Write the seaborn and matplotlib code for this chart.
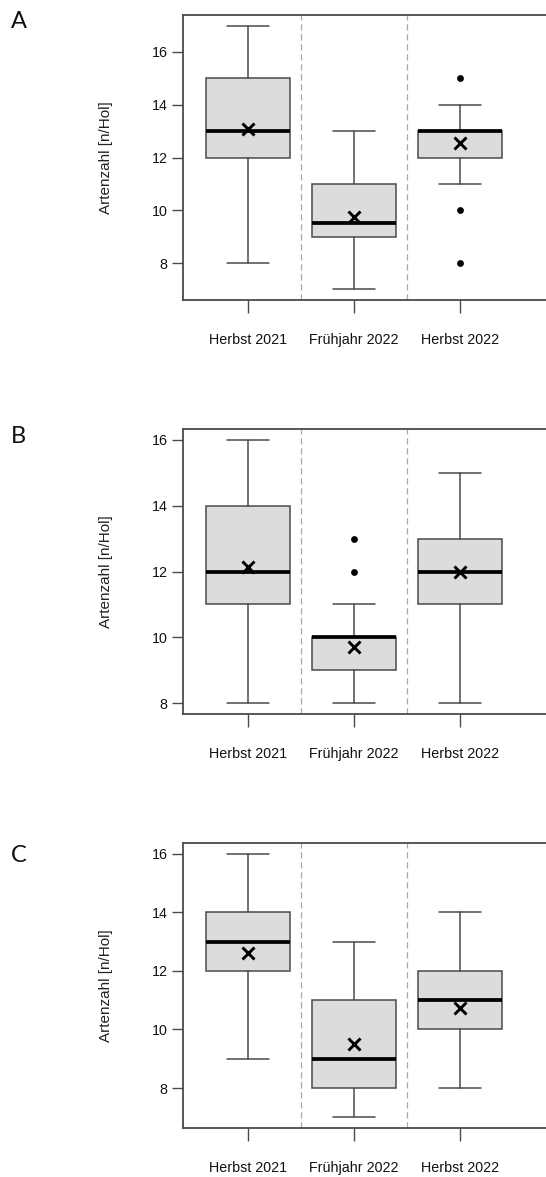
import matplotlib
matplotlib.use("Agg")
import matplotlib.pyplot as plt
import seaborn as sns
import pandas as pd
import numpy as np

sns.set_theme(style="white")
plt.rcParams["font.family"] = ["Liberation Sans", "DejaVu Sans"]

seasons = ["Herbst 2021", "Frühjahr 2022", "Herbst 2022"]
panel_labels = ["A", "B", "C"]
y_ticks = [8, 10, 12, 14, 16]

# Box summaries per panel, one value per season
whislo_A = [8, 7, 11]
q1_A = [12, 9, 12]
med_A = [13, 9.5, 13]
q3_A = [15, 11, 13]
whishi_A = [17, 13, 14]
mean_A = [13.08, 9.75, 12.55]
fliers_A = [[], [], [15, 10, 8]]

whislo_B = [8, 8, 8]
q1_B = [11, 9, 11]
med_B = [12, 10, 12]
q3_B = [14, 10, 13]
whishi_B = [16, 11, 15]
mean_B = [12.15, 9.72, 12.0]
fliers_B = [[], [13, 12], []]

whislo_C = [9, 7, 8]
q1_C = [12, 8, 10]
med_C = [13, 9, 11]
q3_C = [14, 11, 12]
whishi_C = [16, 13, 14]
mean_C = [12.6, 9.5, 10.72]
fliers_C = [[], [], []]

panels = [
    (whislo_A, q1_A, med_A, q3_A, whishi_A, mean_A, fliers_A),
    (whislo_B, q1_B, med_B, q3_B, whishi_B, mean_B, fliers_B),
    (whislo_C, q1_C, med_C, q3_C, whishi_C, mean_C, fliers_C),
]

W, H = 546, 1177
fig = plt.figure(figsize=(W / 100, H / 100), dpi=100)
fig.patch.set_facecolor("white")

# axes frames in pixel coordinates (left, top, right, bottom)
frames = [(183, 15, 560, 300), (183, 429, 560, 714), (183, 843, 560, 1128)]
letter_y = [21, 437, 856]

edge = "#4a4a4a"
for i, (lo, q1, med, q3, hi, mean, fl) in enumerate(panels):
    l, t, r, b = frames[i]
    ax = fig.add_axes([l / W, 1 - b / H, (r - l) / W, (b - t) / H])
    pos = np.arange(len(seasons))
    stats = [
        dict(whislo=lo[k], q1=q1[k], med=med[k], q3=q3[k], whishi=hi[k],
             fliers=[], label=seasons[k])
        for k in range(len(seasons))
    ]
    ax.bxp(stats, positions=pos, widths=0.8, capwidths=0.4,
           patch_artist=True, showfliers=False, showmeans=False,
           boxprops=dict(facecolor="#dcdcdc", edgecolor=edge, linewidth=1.1),
           whiskerprops=dict(color=edge, linewidth=1.1),
           capprops=dict(color=edge, linewidth=1.1),
           medianprops=dict(color="black", linewidth=2.7, solid_capstyle="butt"))

    # outlying values
    out_df = pd.DataFrame(
        [(pos[k], v) for k in range(len(seasons)) for v in fl[k]],
        columns=["pos", "value"])
    if len(out_df):
        sns.scatterplot(data=out_df, x="pos", y="value", ax=ax, color="black",
                        s=24, edgecolor="black", linewidth=0, zorder=5)

    # means
    mean_df = pd.DataFrame({"pos": pos, "mean": mean})
    sns.scatterplot(data=mean_df, x="pos", y="mean", ax=ax, marker="x",
                    color="black", s=75, linewidth=2.1, zorder=6)

    # dashed separators between seasons
    for xs in (pos[:-1] + 0.5):
        ax.axvline(xs, color="#a8a8a8", linestyle=(0, (5, 3)), linewidth=0.9,
                   zorder=0)

    all_vals = lo + hi + [v for f in fl for v in f]
    vmin, vmax = min(all_vals), max(all_vals)
    pad = 0.04 * (vmax - vmin)
    ax.set_ylim(vmin - pad, vmax + pad)
    ax.set_xlim(-0.613, 2.943)
    ax.set_yticks(y_ticks)
    ax.set_yticklabels([str(v) for v in y_ticks])
    ax.set_xticks(pos)
    ax.set_xticklabels(seasons)
    ax.set_xlabel("")
    ax.set_ylabel("Artenzahl [n/Hol]", fontsize=11, color="#222222", labelpad=28)

    ax.tick_params(axis="y", which="both", left=True, length=8, width=1.0,
                   color=edge, pad=3, labelsize=10.3, labelcolor="#111111")
    ax.tick_params(axis="x", which="both", bottom=True, length=9, width=1.0,
                   color=edge, pad=15, labelsize=10.3, labelcolor="#111111")
    for sp in ax.spines.values():
        sp.set_visible(True)
        sp.set_color(edge)
        sp.set_linewidth(1.3)
    ax.grid(False)

    fig.text(11 / W, 1 - letter_y[i] / H, panel_labels[i], fontsize=17,
             family=["Lato", "DejaVu Sans"], fontweight="normal",
             ha="left", va="center", color="#111111")

fig.savefig("out.png", dpi=100, facecolor="white")
